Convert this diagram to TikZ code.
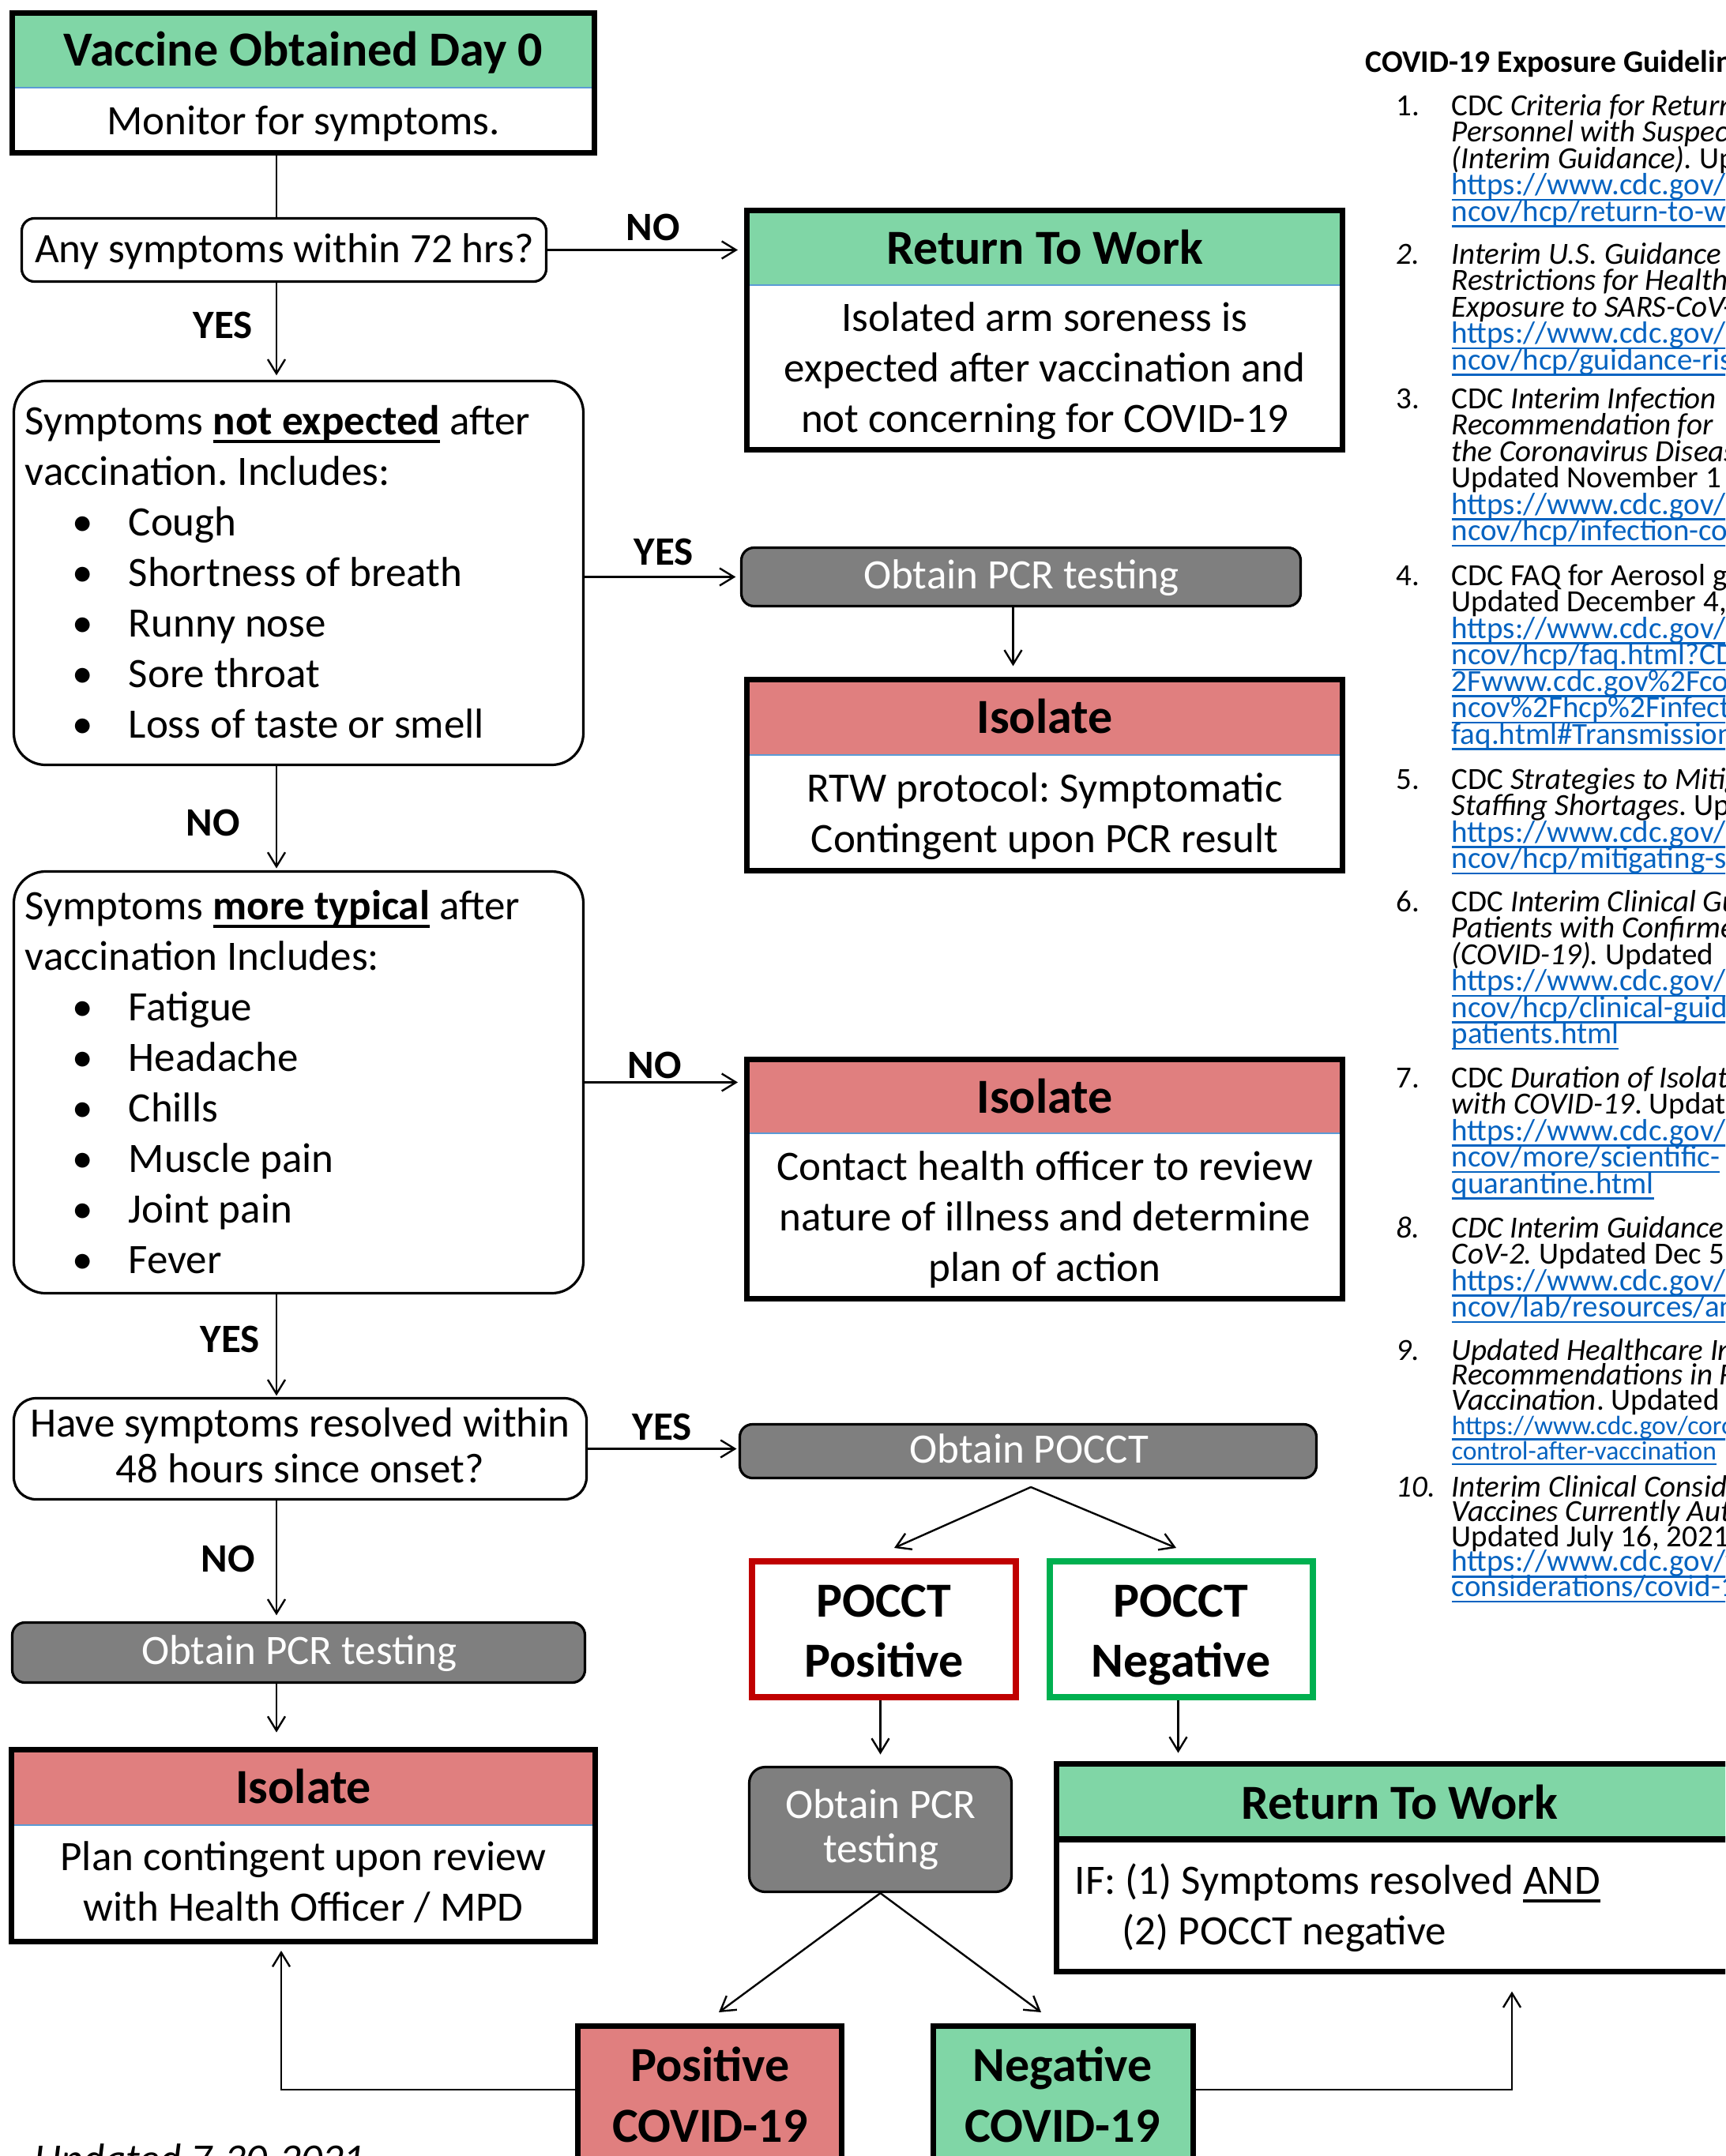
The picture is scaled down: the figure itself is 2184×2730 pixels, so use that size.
\documentclass[tikz,border=0pt]{standalone}
\usepackage{fontspec}
\setmainfont{Carlito}
\usetikzlibrary{arrows.meta}
\definecolor{hdrgreen}{RGB}{128,214,166}
\definecolor{hdrred}{RGB}{224,127,127}
\definecolor{pcrgray}{RGB}{127,127,127}
\definecolor{pocctred}{RGB}{192,0,0}
\definecolor{pocctgreen}{RGB}{0,176,80}
\definecolor{linkblue}{RGB}{5,99,193}
\definecolor{splitblue}{RGB}{91,155,213}
\newcommand{\ulbar}[1]{\setbox0\hbox{#1}\rlap{\rule[-0.2em]{\wd0}{0.065em}}\box0}
\newcommand{\weblink}[1]{\textcolor{linkblue}{\ulbar{#1}}}
\newcommand{\bul}{\makebox[32.75pt][l]{\hspace{15pt}\textbullet}}
\newcommand{\tightlines}{\lineskiplimit-100pt\relax}
\frenchspacing

\begin{document}
\begin{tikzpicture}[x=0.25pt,y=0.25pt,yscale=-1,
	every node/.style={inner sep=0pt},
	conn/.style={line width=0.6pt},
	arr/.style={line width=0.6pt,-{Straight Barb[length=4.5pt,width=5.5pt]}},
	hframe/.style={draw,line width=1.75pt},
	roundbox/.style={draw,line width=0.8pt,rounded corners=#1},
	graybox/.style={draw,line width=0.8pt,fill=pcrgray,rounded corners=#1},
	pocctbox/.style={draw=#1,line width=2pt},
	hsplit/.style={splitblue,line width=0.4pt},
	bodytxt/.style={font=\fontsize{13.25}{16}\selectfont},
	hdrtxt/.style={font=\fontsize{15.5}{19.25}\selectfont\bfseries},
	btntxt/.style={font=\fontsize{13.25}{14}\selectfont\tightlines,text=white},
	lbl/.style={font=\fontsize{12.75}{15}\selectfont\bfseries},
	reftxt/.style={font=\fontsize{9.75}{8.375}\selectfont\tightlines,align=left,anchor=base west},
	refnum/.style={font=\fontsize{9.75}{8.375}\selectfont,anchor=base west}]
	\useasboundingbox (0,0) rectangle (2184,2730);
	\clip (0,0) rectangle (2184,2730);
	% header fills
	\fill[hdrgreen] (15.5,16.5) rectangle (752.5,111);
	\fill[hdrgreen] (945.5,266.5) rectangle (1699.5,361);
	\fill[hdrred] (945.5,860.5) rectangle (1699.5,956);
	\fill[hdrred] (945.5,1341.5) rectangle (1699.5,1435);
	\fill[hdrred] (14.5,2215.5) rectangle (753.5,2311);
	\fill[hdrgreen] (1337.5,2233.5) rectangle (2210,2329);
	\draw[hsplit] (15.5,111) -- (752.5,111);
	\draw[hsplit] (945.5,361) -- (1699.5,361);
	\draw[hsplit] (945.5,956) -- (1699.5,956);
	\draw[hsplit] (945.5,1435) -- (1699.5,1435);
	\draw[hsplit] (14.5,2311) -- (753.5,2311);
	\draw[line width=2pt] (1337.5,2329) -- (2210,2329);
	% boxes
	\node[hframe, minimum width=184.25pt, minimum height=44.25pt] (vac) at (384,105) {};
	\node[hframe, minimum width=188.5pt, minimum height=75.75pt] (rtwa) at (1322.5,418) {};
	\node[hframe, minimum width=188.5pt, minimum height=60.5pt] (isoa) at (1322.5,981.5) {};
	\node[hframe, minimum width=188.5pt, minimum height=75.75pt] (isob) at (1322.5,1493) {};
	\node[hframe, minimum width=184.75pt, minimum height=60.75pt] (isoc) at (384,2337) {};
	\node[hframe, minimum width=218.125pt, minimum height=65.75pt] (rtwb) at (1773.75,2365) {};
	\node[hframe, fill=hdrred, minimum width=83.5pt, minimum height=58.625pt] (posc) at (898.5,2682.75) {};
	\node[hframe, fill=hdrgreen, minimum width=82.25pt, minimum height=58.625pt] (negc) at (1346,2682.75) {};
	\node[pocctbox=pocctred, minimum width=83.5pt, minimum height=43pt] (pocctpos) at (1119,2063) {};
	\node[pocctbox=pocctgreen, minimum width=83.25pt, minimum height=43pt] (pocctneg) at (1495.5,2063) {};
	\node[roundbox=4pt, minimum width=166pt, minimum height=20pt] (anyq) at (359.5,316.5) {};
	\node[roundbox=10pt, minimum width=180.25pt, minimum height=121.5pt] (notexp) at (378,725.5) {};
	\node[roundbox=10pt, minimum width=180.25pt, minimum height=133.5pt] (typical) at (378,1370.5) {};
	\node[roundbox=7pt, minimum width=181.25pt, minimum height=32pt] (resolved) at (380,1834.5) {};
	\node[graybox=4pt, minimum width=177pt, minimum height=18.5pt] (pcra) at (1292.5,730.5) {};
	\node[graybox=4pt, minimum width=182.5pt, minimum height=17pt] (pocct) at (1301.5,1837.5) {};
	\node[graybox=5pt, minimum width=83pt, minimum height=39.5pt] (pcrb) at (1114.5,2316.5) {};
	\node[graybox=4pt, minimum width=181.25pt, minimum height=19pt] (pcrc) at (378,2092.5) {};
	% texts in the boxes (multi-line nodes sit on their last baseline)
	\node[hdrtxt, anchor=base] (vachead) at (384,83) {Vaccine Obtained Day 0};
	\node[bodytxt, anchor=base] (vacbody) at (384,170) {Monitor for symptoms.};
	\node[bodytxt, anchor=base] (anyqtxt) at (360,332) {Any symptoms within 72 hrs?};
	\node[hdrtxt, anchor=base] (rtwahead) at (1322.5,334) {Return To Work};
	\node[bodytxt, anchor=base, align=center] (rtwabody) at (1322.5,547) {Isolated arm soreness is\\expected after vaccination and\\not concerning for COVID-19};
	\node[btntxt, anchor=base] (pcratxt) at (1293,745) {Obtain PCR testing};
	\node[hdrtxt, anchor=base] (isoahead) at (1322.5,928) {Isolate};
	\node[bodytxt, anchor=base, align=center] (isoabody) at (1322.5,1079) {RTW protocol: Symptomatic\\Contingent upon PCR result};
	\node[bodytxt, anchor=base west, align=left] (notexptxt) at (31,934) {Symptoms \textbf{\ulbar{not expected}} after\\vaccination. Includes:\\\bul Cough\\\bul Shortness of breath\\\bul Runny nose\\\bul Sore throat\\\bul Loss of taste or smell};
	\node[bodytxt, anchor=base west, align=left] (typicaltxt) at (31,1612) {Symptoms \textbf{\ulbar{more typical}} after\\vaccination Includes:\\\bul Fatigue\\\bul Headache\\\bul Chills\\\bul Muscle pain\\\bul Joint pain\\\bul Fever};
	\node[hdrtxt, anchor=base] (isobhead) at (1322.5,1409) {Isolate};
	\node[bodytxt, anchor=base, align=center] (isobbody) at (1322.5,1622) {Contact health officer to review\\nature of illness and determine\\plan of action};
	\node[bodytxt, anchor=base, align=center, font=\fontsize{13.25}{14.5}\selectfont] (resolvedtxt) at (380,1877) {Have symptoms resolved within\\48 hours since onset?};
	\node[btntxt, anchor=base] (poccttxt) at (1303,1852) {Obtain POCCT};
	\node[hdrtxt, anchor=base, align=center, font=\fontsize{15.5}{19}\selectfont\bfseries] (pocctpostxt) at (1119,2123) {POCCT\\Positive};
	\node[hdrtxt, anchor=base, align=center, font=\fontsize{15.5}{19}\selectfont\bfseries] (pocctnegtxt) at (1495,2123) {POCCT\\Negative};
	\node[btntxt, anchor=base] (pcrctxt) at (379,2107) {Obtain PCR testing};
	\node[hdrtxt, anchor=base] (isochead) at (384,2283) {Isolate};
	\node[bodytxt, anchor=base, align=center] (isocbody) at (384,2432) {Plan contingent upon review\\with Health Officer / MPD};
	\node[btntxt, anchor=base, align=center] (pcrbtxt) at (1115,2358) {Obtain PCR\\testing};
	\node[hdrtxt, anchor=base] (rtwbhead) at (1772,2303) {Return To Work};
	\node[bodytxt, anchor=base west, align=left] (rtwbbody) at (1360,2462) {IF: (1) Symptoms resolved \ulbar{AND}\\\hspace*{15pt}(2) POCCT negative};
	\node[hdrtxt, anchor=base, align=center] (posctxt) at (899,2712) {Positive\\COVID-19};
	\node[hdrtxt, anchor=base, align=center] (negctxt) at (1345,2712) {Negative\\COVID-19};
	% connectors
	\coordinate (lx) at (350,0);
	\coordinate (lx2) at (356,0);
	\coordinate (rx) at (1914,0);
	\coordinate (lowy) at (0,2646);
	\coordinate (pocctfork) at (1305,1883);
	\coordinate (posin) at (1132,1960);
	\coordinate (negin) at (1489,1960);
	\coordinate (poscin) at (910,2548);
	\coordinate (negcin) at (1318,2548);
	\draw[conn] (vac.south -| lx) -- (anyq.north -| lx);
	\draw[arr, shorten >=1.4pt] (anyq.south -| lx) -- (notexp.north -| lx);
	\draw[arr, shorten >=2pt] (anyq.east) -- (anyq.east -| rtwa.west);
	\draw[arr, shorten >=1.4pt] (notexp.east |- pcra.west) -- (pcra.west);
	\draw[arr, shorten >=3.4pt] ([xshift=-2.5pt]pcra.south) -- ([xshift=-2.5pt]pcra.south |- isoa.north);
	\draw[arr, shorten >=0.6pt] (notexp.south -| lx) -- (typical.north -| lx);
	\draw[arr, shorten >=2pt] (typical.east) -- (typical.east -| isob.west);
	\draw[arr, shorten >=0.4pt] (typical.south -| lx) -- (resolved.north -| lx);
	\draw[arr, shorten >=0.6pt] (resolved.east) -- (resolved.east -| pocct.west);
	\draw[arr, shorten >=1.9pt] (resolved.south -| lx) -- (pcrc.north -| lx);
	\draw[arr, shorten >=4.6pt] (pcrc.south -| lx) -- (isoc.north -| lx);
	\draw[arr] (pocctfork) -- (posin);
	\draw[arr] (pocctfork) -- (negin);
	\draw[arr, shorten >=3.6pt] (pocctpos.south -| pcrb.north) -- (pcrb.north);
	\draw[arr, shorten >=2.6pt] ([xshift=-1pt]pocctneg.south) -- ([xshift=-1pt]pocctneg.south |- rtwb.north);
	\draw[arr] (pcrb.south) -- (poscin);
	\draw[arr] (pcrb.south) -- (negcin);
	\draw[arr, shorten >=2pt] (posc.west |- lowy) -- (lx2 |- lowy) -- (isoc.south -| lx2);
	\draw[arr, shorten >=5.4pt] (negc.east |- lowy) -- (rx |- lowy) -- (rtwb.south -| rx);
	% labels
	\node[lbl, anchor=base] (no1) at (827,304) {NO};
	\node[lbl, anchor=base] (yes1) at (282,428) {YES};
	\node[lbl, anchor=base] (yes2) at (840,715) {YES};
	\node[lbl, anchor=base] (no2) at (270,1058) {NO};
	\node[lbl, anchor=base] (no3) at (829,1365) {NO};
	\node[lbl, anchor=base] (yes3) at (291,1712) {YES};
	\node[lbl, anchor=base] (yes4) at (838,1823) {YES};
	\node[lbl, anchor=base] (no4) at (289,1990) {NO};
	% references
	\node[anchor=base west, font=\fontsize{9.9}{11}\selectfont\bfseries] (reftitle) at (1728,92) {COVID-19 Exposure Guidelines};
	\node[refnum] (num1) at (1767,146) {1.};
	\node[reftxt] (ref1) at (1837,280) {CDC \textit{Criteria for Return}\\\textit{Personnel with Suspected}\\\textit{(Interim Guidance).} Updated\\\weblink{https://www.cdc.gov/}\\\weblink{ncov/hcp/return-to-work}};
	\node[refnum] (num2) at (1767,334) {\textit{2.}};
	\node[reftxt] (ref2) at (1837,468) {\textit{Interim U.S. Guidance for}\\\textit{Restrictions for Healthcare}\\\textit{Exposure to SARS-CoV-2}\\\weblink{https://www.cdc.gov/}\\\weblink{ncov/hcp/guidance-risk}};
	\node[refnum] (num3) at (1767,517) {3.};
	\node[reftxt] (ref3) at (1837,684.5) {CDC \textit{Interim Infection}\\\textit{Recommendation for}\\\textit{the Coronavirus Disease}\\Updated November 1\\\weblink{https://www.cdc.gov/}\\\weblink{ncov/hcp/infection-control}};
	\node[refnum] (num4) at (1767,741) {4.};
	\node[reftxt] (ref4) at (1837,942) {CDC FAQ for Aerosol generating\\Updated December 4,\\\weblink{https://www.cdc.gov/}\\\weblink{ncov/hcp/faq.html?CDC}\\\weblink{2Fwww.cdc.gov\%2Fcoronavirus}\\\weblink{ncov\%2Fhcp\%2Finfection}\\\weblink{faq.html\#Transmission}};
	\node[refnum] (num5) at (1767,999) {5.};
	\node[reftxt] (ref5) at (1837,1099.5) {CDC \textit{Strategies to Mitigate}\\\textit{Staffing Shortages}. Updated\\\weblink{https://www.cdc.gov/}\\\weblink{ncov/hcp/mitigating-staff}};
	\node[refnum] (num6) at (1767,1154) {6.};
	\node[reftxt] (ref6) at (1837,1321.5) {CDC \textit{Interim Clinical Guidance}\\\textit{Patients with Confirmed}\\\textit{(COVID-19).} Updated\\\weblink{https://www.cdc.gov/}\\\weblink{ncov/hcp/clinical-guidance}\\\weblink{patients.html}};
	\node[refnum] (num7) at (1767,1377) {7.};
	\node[reftxt] (ref7) at (1837,1511) {CDC \textit{Duration of Isolation}\\\textit{with COVID-19}. Updated\\\weblink{https://www.cdc.gov/}\\\weblink{ncov/more/scientific-}\\\weblink{quarantine.html}};
	\node[refnum] (num8) at (1767,1567) {\textit{8.}};
	\node[reftxt] (ref8) at (1837,1667.5) {\textit{CDC Interim Guidance}\\\textit{CoV-2.} Updated Dec 5\\\weblink{https://www.cdc.gov/}\\\weblink{ncov/lab/resources/antigen}};
	\node[refnum] (num9) at (1767,1722) {\textit{9.}};
	\node[reftxt, font=\fontsize{9.75}{7.9}\selectfont\tightlines] (ref9) at (1837,1848.4) {\textit{Updated Healthcare Infection}\\\textit{Recommendations in Response}\\\textit{Vaccination}. Updated April\\{\fontsize{8.4}{7.9}\selectfont\weblink{https://www.cdc.gov/coronavirus}}\\{\fontsize{8.4}{7.9}\selectfont\weblink{control-after-vaccination}}};
	\node[refnum] (num10) at (1767,1895) {\textit{10.}};
	\node[reftxt, font=\fontsize{9.75}{7.9}\selectfont\tightlines] (ref10) at (1837,2021.4) {\textit{Interim Clinical Considerations}\\\textit{Vaccines Currently Authorized}\\Updated July 16, 2021.\\\weblink{https://www.cdc.gov/vaccines}\\\weblink{considerations/covid-19}};
	% footer
	\node[bodytxt, anchor=base west] (updated) at (43,2751) {\textit{Updated 7-30-2021}};
\end{tikzpicture}
\end{document}
